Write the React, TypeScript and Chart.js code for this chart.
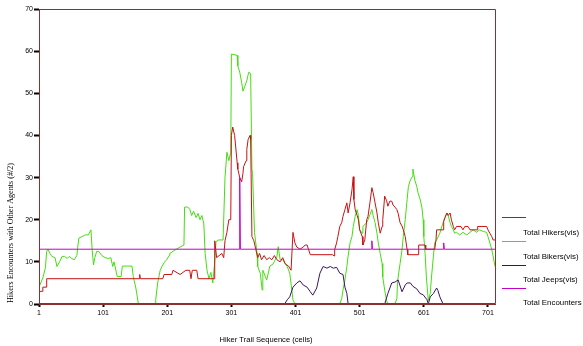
import React, { useEffect, useRef } from "react";
import { Chart, registerables } from "chart.js";

Chart.register(...registerables);

// ---- data ----
const xTickValues = [1, 101, 201, 301, 401, 501, 601, 701];
const yTickValues = [0, 10, 20, 30, 40, 50, 60, 70];

const hikersCells = [1, 6, 7, 12, 13, 157, 158, 159, 194, 196, 208, 210, 221, 230, 236, 238, 240, 247, 249, 274, 275, 278, 286, 289, 291, 294, 297, 300, 301, 303, 306, 310, 311, 314, 317, 319, 320, 324, 325, 327, 330, 331, 333, 336, 339, 342, 345, 348, 352, 356, 360, 364, 368, 372, 377, 381, 385, 390, 394, 397, 400, 403, 408, 413, 416, 419, 424, 459, 461, 462, 465, 467, 470, 473, 475, 478, 481, 483, 486, 489, 491, 492, 494, 497, 499, 501, 505, 506, 509, 512, 514, 517, 520, 522, 525, 528, 530, 533, 536, 537, 540, 543, 545, 548, 551, 553, 556, 559, 561, 564, 567, 569, 572, 575, 576, 592, 593, 603, 604, 618, 620, 621, 631, 632, 634, 637, 639, 642, 644, 647, 649, 652, 659, 662, 665, 670, 673, 684, 685, 699, 701, 704, 707, 709, 712];
const hikersValues = [3, 3, 4, 4, 6, 6, 7, 6, 6, 7, 7, 8, 7, 8, 8, 6, 8, 8, 6, 6, 15, 11, 12, 11, 15, 17, 20, 20, 40, 42, 40, 33.5, 32, 30, 29, 31, 32.6, 34, 36.7, 39, 40, 39, 16, 15, 13, 11, 12, 10.5, 11.5, 10.5, 11, 10.5, 11.5, 10.5, 10, 11, 9.5, 9, 8, 17, 14.5, 13.5, 13, 13.5, 14, 14, 11.7, 11.7, 11.4, 12.9, 14.5, 16, 18.4, 19.3, 20.8, 22.4, 24, 21.6, 24, 27.1, 30.2, 24.8, 22.4, 21, 20, 17.6, 16, 14, 15.2, 20, 20.8, 24, 27.6, 26.4, 24, 21.6, 19.3, 16.8, 18.4, 20, 25.6, 24.5, 23.2, 24.4, 24.4, 23.5, 23, 22.4, 21.5, 19.3, 18.5, 17.6, 16, 12.9, 11.7, 11.7, 14, 14, 13, 13, 15.2, 17.6, 17.6, 19.6, 20.5, 21.6, 21, 21.6, 20, 18.4, 17.6, 18.4, 18.4, 17.6, 18.4, 18.4, 17.6, 17.6, 18.4, 18.4, 17.6, 16.8, 16, 15.2, 15.2];

const bikersCells = [1, 7, 11, 13, 15, 18, 21, 26, 29, 33, 37, 41, 45, 48, 52, 56, 60, 63, 68, 73, 78, 82, 84, 86, 88, 91, 94, 99, 104, 109, 113, 116, 118, 123, 129, 131, 138, 146, 148, 152, 156, 158, 182, 183, 186, 190, 193, 197, 200, 204, 205, 210, 215, 221, 227, 228, 233, 236, 239, 242, 246, 249, 252, 255, 258, 260, 263, 266, 269, 272, 275, 277, 281, 288, 291, 294, 297, 300, 301, 310, 311, 314, 317, 319, 322, 325, 328, 331, 333, 334, 337, 341, 342, 346, 349, 350, 356, 361, 366, 372, 374, 377, 381, 388, 392, 397, 400, 470, 473, 475, 478, 481, 483, 486, 489, 491, 494, 497, 499, 501, 505, 506, 512, 514, 517, 520, 522, 525, 528, 530, 533, 536, 537, 540, 543, 545, 556, 559, 560, 561, 564, 567, 569, 572, 575, 577, 580, 583, 584, 587, 590, 592, 595, 598, 600, 601, 603, 605, 608, 611, 613, 616, 618, 621, 626, 631, 634, 637, 639, 642, 644, 647, 649, 652, 657, 662, 668, 673, 678, 683, 688, 694, 699, 701, 704, 707, 709, 712];
const bikersValues = [4, 6.2, 8.6, 12.5, 13, 12, 11.3, 11, 8.9, 10, 11.3, 11.3, 10.8, 11.3, 10.8, 10.5, 11.5, 15.6, 16, 16.4, 16.4, 17.6, 12.7, 9.3, 11, 12.5, 12.5, 11.5, 11, 10.8, 11, 8.9, 10, 6.5, 6.5, 9, 9, 9, 6.5, 3.8, 0, 0, 0, 1, 5, 8, 9, 10, 10.5, 11.5, 12, 12.5, 13, 13.5, 14, 23, 23, 22.5, 21, 22, 20.5, 21.5, 20, 21, 19, 12, 8, 6, 7.5, 5, 10, 14.8, 15.2, 15.2, 30, 36, 34, 36, 59.3, 59, 56.5, 55, 52.6, 50.5, 51.7, 53, 55, 54.7, 32, 31, 17, 12, 8.9, 7.3, 3.3, 8, 5.7, 9, 9.5, 11.3, 13.6, 10.5, 10.5, 8.9, 7.3, 1, 0, 0, 1.3, 3.3, 5.7, 8.9, 11.4, 14.5, 16, 18.4, 20.8, 22.4, 21, 17.6, 16.8, 18.4, 19.3, 20, 21.2, 22.4, 21, 19.3, 16.8, 14.5, 12, 9.6, 6.4, 3.3, 0.8, 0, 0, 1.3, 5, 6.4, 9.6, 12.9, 16, 20, 24.8, 27.9, 29.4, 30.2, 32, 29.4, 27.9, 26.4, 25, 23, 20, 16, 12, 6.4, 0.8, 2.5, 6.4, 11.4, 14.5, 15.2, 16.8, 19.3, 20.5, 21.6, 21, 19.3, 18.4, 17.6, 16.8, 17, 16.4, 17, 16.4, 17, 17.6, 17, 17.6, 17.2, 17, 16, 14.5, 12.9, 11.4, 8.9];

const jeepsCells = [1, 384, 388, 392, 397, 403, 408, 413, 419, 424, 428, 434, 439, 444, 450, 455, 460, 465, 470, 475, 478, 481, 483, 540, 545, 551, 556, 561, 567, 572, 575, 580, 584, 590, 595, 600, 606, 608, 611, 616, 621, 623, 626, 631, 712];
const jeepsValues = [0, 0, 1, 1.7, 4, 5, 5.5, 4.5, 4, 2.9, 2.1, 3.8, 7.3, 8.9, 8.5, 8.9, 8.5, 8.7, 7.3, 7, 4, 2.5, 0, 0, 2.5, 5, 5.2, 5.7, 2.9, 4.5, 5, 5, 4.2, 3.6, 2.5, 2.2, 1, 0, 1.7, 2.5, 3.8, 3.2, 1.7, 0, 0];

const encounterCells = [1, 313, 314, 315, 519, 520, 521, 631, 632, 633, 712];
const encounterValues = [13, 13, 30, 13, 13, 15, 13, 13, 14.5, 13, 13];

const seriesLabels = ["Total Hikers(vis)", "Total Bikers(vis)", "Total Jeeps(vis)", "Total Encounters"];
const yTitle = "Hikers Encounters with Other Agents (#/2)";
const xTitle = "Hiker Trail Sequence (cells)";

// ---- styles ----
const COLORS = ["#c81212", "#44dd11", "#3a1462", "#c400c4"];
const FRAME = "#8b3030";
const SANS = '"Liberation Sans", Arial, sans-serif';
const SERIF = '"Liberation Serif", "Times New Roman", serif';

const toPoints = (xs: number[], ys: number[]) => xs.map((x, i) => ({ x, y: ys[i] }));

const decorPlugin = {
  id: "decor",
  afterDraw(chart: any) {
    const { ctx, chartArea: a } = chart;
    ctx.save();
    // frame (drawn over the data, like the reference)
    ctx.strokeStyle = FRAME;
    ctx.lineWidth = 1;
    const l = Math.round(a.left) + 0.5;
    const t = Math.round(a.top) + 0.5;
    const r = Math.round(a.right) + 0.5;
    const b = Math.round(a.bottom) - 0.5;
    ctx.beginPath();
    ctx.moveTo(l, b);
    ctx.lineTo(l, t);
    ctx.lineTo(r, t);
    ctx.lineTo(r, b);
    ctx.lineTo(l, b);
    ctx.stroke();

    // y title
    ctx.save();
    ctx.translate(10.5, 233);
    ctx.rotate(-Math.PI / 2);
    ctx.font = "9px " + SERIF;
    const wy = ctx.measureText(yTitle).width;
    ctx.scale(140 / wy, 1);
    ctx.fillStyle = "#000";
    ctx.textAlign = "center";
    ctx.textBaseline = "middle";
    ctx.fillText(yTitle, 0, 0);
    ctx.restore();

    // x title
    ctx.save();
    ctx.font = "7px " + SANS;
    const wx = ctx.measureText(xTitle).width;
    ctx.translate(266, 340);
    ctx.scale(93 / wx, 1);
    ctx.fillStyle = "#000";
    ctx.textAlign = "center";
    ctx.textBaseline = "middle";
    ctx.fillText(xTitle, 0, 0);
    ctx.restore();

    // legend
    const lineY = [217.5, 241.5, 265.5, 288.5];
    const textY = [233, 257, 280, 303];
    ctx.font = "7px " + SANS;
    const w0 = ctx.measureText(seriesLabels[0]).width;
    const sx = 56 / w0;
    seriesLabels.forEach((label, i) => {
      ctx.strokeStyle = COLORS[i];
      ctx.lineWidth = 1;
      ctx.beginPath();
      ctx.moveTo(502, lineY[i]);
      ctx.lineTo(526, lineY[i]);
      ctx.stroke();
      ctx.save();
      ctx.translate(523, textY[i]);
      ctx.scale(sx, 1);
      ctx.fillStyle = "#000";
      ctx.textAlign = "left";
      ctx.textBaseline = "middle";
      ctx.fillText(label, 0, 0);
      ctx.restore();
    });
    ctx.restore();
  },
};

export default function App() {
  const ref = useRef<HTMLCanvasElement | null>(null);

  useEffect(() => {
    document.body.style.margin = "0";
    const canvas = ref.current;
    if (!canvas) return;
    const mk = (i: number, xs: number[], ys: number[], order: number) => ({
      label: seriesLabels[i],
      data: toPoints(xs, ys),
      borderColor: COLORS[i],
      backgroundColor: COLORS[i],
      borderWidth: 1,
      pointRadius: 0,
      tension: 0,
      fill: false,
      order,
    });
    const chart = new Chart(canvas, {
      type: "line",
      data: {
        datasets: [
          mk(0, hikersCells, hikersValues, 1),
          mk(1, bikersCells, bikersValues, 3),
          mk(2, jeepsCells, jeepsValues, 2),
          mk(3, encounterCells, encounterValues, 0),
        ],
      },
      options: {
        responsive: false,
        animation: false,
        devicePixelRatio: 1,
        layout: { padding: { left: 0, top: 9, right: 88, bottom: 0 } },
        plugins: { legend: { display: false }, tooltip: { enabled: false } },
        scales: {
          x: {
            type: "linear",
            min: 1,
            max: 712,
            afterBuildTicks: (s: any) => {
              s.ticks = xTickValues.map((v) => ({ value: v }));
            },
            afterFit: (s: any) => {
              s.height = 42;
            },
            ticks: {
              autoSkip: false,
              maxRotation: 0,
              padding: 2,
              color: "#000",
              font: { size: 7, family: SANS },
              callback: (v: any) => String(v),
            },
            grid: {
              drawOnChartArea: false,
              drawTicks: true,
              tickLength: 3,
              tickWidth: 2,
              tickColor: "#000",
            },
            border: { display: true, color: FRAME, width: 1 },
          },
          y: {
            min: 0,
            max: 70,
            afterBuildTicks: (s: any) => {
              s.ticks = yTickValues.map((v) => ({ value: v }));
            },
            afterFit: (s: any) => {
              s.width = 39;
            },
            ticks: {
              padding: 1,
              color: "#000",
              font: { size: 7, family: SANS },
              callback: (v: any) => String(v),
            },
            grid: {
              drawOnChartArea: false,
              drawTicks: true,
              tickLength: 5,
              tickWidth: 2,
              tickColor: "#000",
            },
            border: { display: true, color: FRAME, width: 1 },
          },
        },
      },
      plugins: [decorPlugin],
    } as any);
    return () => chart.destroy();
  }, []);

  return <canvas ref={ref} width={583} height={346} style={{ display: "block" }} />;
}
